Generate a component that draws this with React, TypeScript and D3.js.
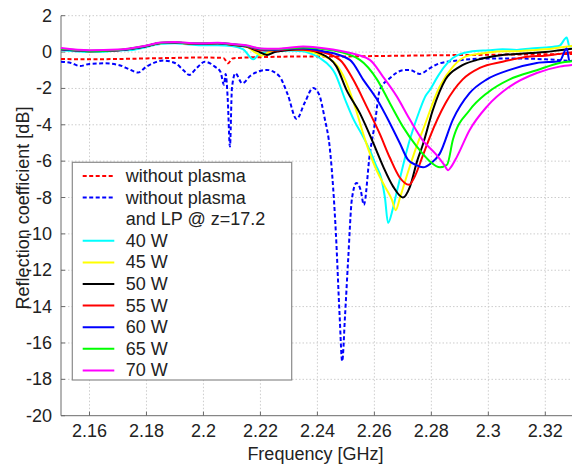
import React from "react";
import * as d3 from "d3";

type P = [number, number];

const xTicks = [2.16, 2.18, 2.2, 2.22, 2.24, 2.26, 2.28, 2.3, 2.32];
const xTickLabels = ["2.16", "2.18", "2.2", "2.22", "2.24", "2.26", "2.28", "2.3", "2.32"];
const yTicks = [2, 0, -2, -4, -6, -8, -10, -12, -14, -16, -18, -20];

const refNoPlasma: P[] = [
  [2.15, -0.38], [2.16, -0.4], [2.17, -0.38], [2.18, -0.35], [2.19, -0.32], [2.2, -0.3],
  [2.207, -0.32], [2.2086, -0.62], [2.2102, -0.35], [2.215, -0.3], [2.22, -0.28], [2.23, -0.25],
  [2.24, -0.25], [2.26, -0.22], [2.28, -0.18], [2.3, -0.15], [2.32, -0.12], [2.33, -0.1],
];

const refLP: P[] = [
  [2.15, -0.53], [2.1535, -0.6], [2.1567, -0.77], [2.16, -0.65], [2.165, -0.62], [2.17, -0.7],
  [2.174, -0.95], [2.177, -1.13], [2.18, -0.8], [2.186, -0.47], [2.19, -0.6], [2.193, -1.0],
  [2.195, -1.26], [2.1975, -0.9], [2.2005, -0.53], [2.204, -0.8], [2.206, -1.1], [2.2072, -1.8],
  [2.2078, -1.2], [2.2085, -2.5], [2.2093, -5.2], [2.21, -2.0], [2.2112, -1.17], [2.2136, -1.72],
  [2.2165, -1.3], [2.2222, -0.98], [2.2265, -1.3], [2.2295, -2.3], [2.2327, -3.68], [2.2355, -2.8],
  [2.2385, -1.98], [2.2405, -2.3], [2.2425, -3.6], [2.2445, -5.5], [2.2465, -10.0], [2.2478, -14.5],
  [2.2487, -17.0], [2.2497, -14.5], [2.2508, -11.4], [2.2521, -8.1], [2.2537, -7.2], [2.2552, -7.6],
  [2.2563, -8.4], [2.2584, -5.6], [2.2602, -3.9], [2.2619, -2.08], [2.2654, -1.44], [2.27, -1.0],
  [2.2724, -0.98], [2.2759, -1.2], [2.2794, -0.9], [2.2829, -0.62], [2.29, -0.45], [2.3, -0.35],
  [2.31, -0.35], [2.32, -0.4], [2.33, -0.5],
];

const w40: P[] = [
  [2.15, 0.1], [2.155, 0.05], [2.16, 0.0], [2.165, 0.02], [2.17, 0.08], [2.175, 0.12], [2.18, 0.28],
  [2.185, 0.45], [2.19, 0.48], [2.195, 0.42], [2.2, 0.38], [2.205, 0.38], [2.21, 0.34], [2.214, 0.15],
  [2.2175, -0.4], [2.22, -0.05], [2.225, 0.05], [2.23, 0.08], [2.235, 0.05], [2.238, -0.1],
  [2.241, -0.34], [2.2445, -0.8], [2.2461, -1.15], [2.2497, -2.6], [2.253, -3.8], [2.2555, -4.5],
  [2.2584, -5.4], [2.2605, -6.2], [2.2625, -7.0], [2.2637, -8.0], [2.2648, -9.4], [2.2665, -8.6],
  [2.268, -7.6], [2.2724, -4.84], [2.2759, -3.2], [2.278, -2.4], [2.2794, -2.1], [2.2822, -1.35],
  [2.2846, -0.8], [2.2875, -0.33], [2.2935, 0.02], [2.3, 0.1], [2.305, 0.15], [2.31, 0.12],
  [2.315, 0.2], [2.32, 0.25], [2.325, 0.35], [2.3275, 0.8], [2.3285, 0.3], [2.33, 0.4],
];

const w45: P[] = [
  [2.15, 0.15], [2.16, 0.05], [2.17, 0.1], [2.18, 0.32], [2.185, 0.48], [2.19, 0.52], [2.195, 0.46],
  [2.2, 0.45], [2.205, 0.48], [2.21, 0.4], [2.215, 0.3], [2.218, 0.0], [2.2205, -0.2], [2.223, 0.0],
  [2.228, 0.12], [2.234, 0.12], [2.2409, -0.15], [2.2461, -0.6], [2.2497, -1.5], [2.2532, -3.0],
  [2.2567, -4.8], [2.2602, -6.3], [2.2637, -7.4], [2.2661, -8.1], [2.2675, -8.7], [2.269, -8.0],
  [2.272, -6.5], [2.275, -5.1], [2.277, -4.3], [2.2829, -1.9], [2.2876, -0.8], [2.292, -0.25],
  [2.299, -0.05], [2.305, 0.05], [2.31, 0.05], [2.315, 0.1], [2.32, 0.15], [2.325, 0.25], [2.33, 0.35],
];

const w50: P[] = [
  [2.15, 0.15], [2.16, 0.05], [2.17, 0.1], [2.18, 0.32], [2.185, 0.5], [2.19, 0.52], [2.195, 0.47],
  [2.2, 0.46], [2.205, 0.48], [2.21, 0.4], [2.215, 0.3], [2.219, 0.05], [2.2223, -0.16], [2.225, 0.0],
  [2.23, 0.12], [2.235, 0.15], [2.2409, -0.07], [2.2467, -0.8], [2.2502, -2.08], [2.2549, -3.36],
  [2.2596, -5.0], [2.2631, -6.3], [2.2666, -7.4], [2.27, -8.0], [2.2725, -7.4], [2.275, -6.0],
  [2.277, -5.1], [2.2805, -3.2], [2.285, -1.5], [2.29, -0.8], [2.296, -0.43], [2.305, -0.16],
  [2.31, -0.1], [2.315, -0.05], [2.32, 0.0], [2.325, 0.1], [2.33, 0.2],
];

const w55: P[] = [
  [2.15, 0.15], [2.16, 0.05], [2.17, 0.1], [2.18, 0.33], [2.185, 0.5], [2.19, 0.52], [2.195, 0.47],
  [2.2, 0.46], [2.205, 0.48], [2.21, 0.42], [2.215, 0.32], [2.22, 0.1], [2.225, 0.08], [2.23, 0.15],
  [2.24, 0.05], [2.2479, -0.43], [2.2525, -1.5], [2.2573, -3.0], [2.2619, -4.5], [2.2654, -5.8],
  [2.2689, -6.9], [2.2722, -7.3], [2.274, -6.9], [2.277, -5.7], [2.2794, -4.7], [2.285, -2.8],
  [2.291, -1.5], [2.297, -0.87], [2.305, -0.53], [2.3145, -0.25], [2.32, -0.2], [2.325, -0.1], [2.33, 0.0],
];

const w60: P[] = [
  [2.15, 0.15], [2.16, 0.06], [2.17, 0.1], [2.18, 0.33], [2.185, 0.5], [2.19, 0.53], [2.195, 0.48],
  [2.2, 0.47], [2.205, 0.49], [2.21, 0.43], [2.215, 0.33], [2.22, 0.15], [2.225, 0.12], [2.23, 0.18],
  [2.235, 0.2], [2.242, 0.05], [2.2514, -0.43], [2.256, -1.5], [2.2609, -2.6], [2.2654, -3.9],
  [2.2689, -5.0], [2.2717, -5.9], [2.2745, -6.2], [2.2771, -6.34], [2.28, -6.1], [2.2829, -5.6],
  [2.2876, -3.7], [2.2934, -2.26], [2.2995, -1.5], [2.3075, -0.98], [2.317, -0.6], [2.325, -0.5],
  [2.3275, 0.2], [2.3285, -0.5], [2.33, -0.45],
];

const w65: P[] = [
  [2.15, 0.18], [2.16, 0.07], [2.17, 0.12], [2.18, 0.35], [2.185, 0.51], [2.19, 0.54], [2.195, 0.49],
  [2.2, 0.48], [2.205, 0.5], [2.21, 0.44], [2.215, 0.35], [2.22, 0.18], [2.225, 0.15], [2.23, 0.2],
  [2.235, 0.25], [2.245, 0.1], [2.2549, -0.43], [2.2609, -1.5], [2.2654, -2.8], [2.27, -4.1],
  [2.2749, -5.2], [2.2794, -6.0], [2.283, -6.34], [2.2855, -6.2], [2.2876, -4.8], [2.2934, -3.2],
  [2.2995, -2.26], [2.3075, -1.5], [2.317, -1.0], [2.325, -0.6], [2.33, -0.5],
];

const w70: P[] = [
  [2.15, 0.22], [2.16, 0.1], [2.17, 0.14], [2.18, 0.36], [2.185, 0.52], [2.19, 0.55], [2.195, 0.5],
  [2.2, 0.49], [2.205, 0.51], [2.21, 0.45], [2.215, 0.37], [2.22, 0.2], [2.225, 0.18], [2.23, 0.24],
  [2.235, 0.3], [2.24, 0.25], [2.25, 0.0], [2.2584, -0.43], [2.263, -1.35], [2.2679, -2.45],
  [2.2724, -3.7], [2.2769, -4.84], [2.2818, -5.66], [2.2845, -6.2], [2.2859, -6.5], [2.287, -6.3],
  [2.289, -5.75], [2.2934, -4.3], [2.2995, -3.0], [2.3075, -1.9], [2.317, -1.15], [2.325, -0.8],
  [2.33, -0.7],
];

const seriesNames = [
  "without plasma", "without plasma", "40 W", "45 W", "50 W", "55 W", "60 W", "65 W", "70 W",
];
const seriesData = [refNoPlasma, refLP, w40, w45, w50, w55, w60, w65, w70];
const seriesColors = ["#ff0000", "#0000ff", "#00ffff", "#ffff00", "#000000", "#ff0000", "#0000ff", "#00ff00", "#ff00ff"];
const seriesDashed = [true, true, false, false, false, false, false, false, false];
const legendSecondLine = "and LP @ z=17.2";

const W = 572;
const H = 464;
const left = 61;
const top = 15.7;
const bottom = 415.7;
const right = 573.8;
const FONT = "'Liberation Sans', Arial, Helvetica, sans-serif";

export default function App() {
  const x = d3.scaleLinear().domain([2.15, 2.33]).range([left, right]);
  const y = d3.scaleLinear().domain([-20, 2]).range([bottom, top]);
  const line = d3
    .line<P>()
    .x((d) => x(d[0]))
    .y((d) => y(d[1]))
    .curve(d3.curveMonotoneX);

  const legX = 72.3;
  const legY = 162.3;
  const legW = 219.4;
  const legH = 217.7;
  const rowStart = 176;
  const rowStep = 21.6;
  const rowOf = (i: number) => (i <= 1 ? i : i + 1);

  return (
    <svg width={W} height={H} style={{ display: "block", position: "absolute", left: 0, top: 0 }}>
      <rect x={0} y={0} width={W} height={H} fill="#fff" />
      <defs>
        <clipPath id="plotclip">
          <rect x={left} y={top - 2} width={right - left} height={bottom - top + 2} />
        </clipPath>
      </defs>
      <g stroke="#cdcdcd" strokeWidth={1} strokeDasharray="1.5,2">
        {xTicks.map((t) => (
          <line key={"gx" + t} x1={x(t)} x2={x(t)} y1={top} y2={bottom} />
        ))}
        {yTicks.filter((t) => t > -20).map((t) => (
          <line key={"gy" + t} x1={left} x2={W} y1={y(t)} y2={y(t)} />
        ))}
      </g>
      <line x1={left} x2={left} y1={top} y2={bottom} stroke="#6a6a6a" strokeWidth={1} />
      <line x1={left} x2={W} y1={bottom} y2={bottom} stroke="#6a6a6a" strokeWidth={1} />
      {xTicks.map((t) => (
        <line key={"tx" + t} x1={x(t)} x2={x(t)} y1={bottom} y2={bottom - 4} stroke="#6a6a6a" />
      ))}
      {yTicks.map((t) => (
        <line key={"ty" + t} x1={left} x2={left + 4} y1={y(t)} y2={y(t)} stroke="#6a6a6a" />
      ))}
      <g fontFamily={FONT} fontSize={18} fill="#222">
        {xTicks.map((t, i) => (
          <text key={"lx" + t} x={x(t)} y={437} textAnchor="middle">
            {xTickLabels[i]}
          </text>
        ))}
        {yTicks.map((t) => (
          <text key={"ly" + t} x={52} y={y(t)} textAnchor="end" dominantBaseline="central">
            {String(t)}
          </text>
        ))}
        <text x={(left + right) / 2 - 2} y={460} textAnchor="middle">
          Frequency [GHz]
        </text>
        <text transform={`translate(29, 208) rotate(-90)`} textAnchor="middle">
          Reflection coefficient  [dB]
        </text>
      </g>
      <g clipPath="url(#plotclip)" fill="none" strokeLinejoin="round">
        {seriesData.map((d, i) => (
          <path
            key={"s" + i}
            d={line(d) || ""}
            stroke={seriesColors[i]}
            strokeWidth={2}
            strokeDasharray={seriesDashed[i] ? "4,2.5" : undefined}
          />
        ))}
      </g>
      <rect x={legX} y={legY} width={legW} height={legH} fill="#fff" stroke="#8a8a8a" strokeWidth={1.2} />
      <g fontFamily={FONT} fontSize={18} fill="#222">
        {seriesNames.map((n, i) => {
          const cy = rowStart + rowOf(i) * rowStep;
          return (
            <g key={"lg" + i}>
              <line
                x1={82.7}
                x2={114.3}
                y1={cy}
                y2={cy}
                stroke={seriesColors[i]}
                strokeWidth={2}
                strokeDasharray={seriesDashed[i] ? "4,2.5" : undefined}
              />
              <text x={125.7} y={cy} dominantBaseline="central">
                {n}
              </text>
            </g>
          );
        })}
        <text x={125.7} y={rowStart + 2 * rowStep} dominantBaseline="central">
          {legendSecondLine}
        </text>
      </g>
    </svg>
  );
}
